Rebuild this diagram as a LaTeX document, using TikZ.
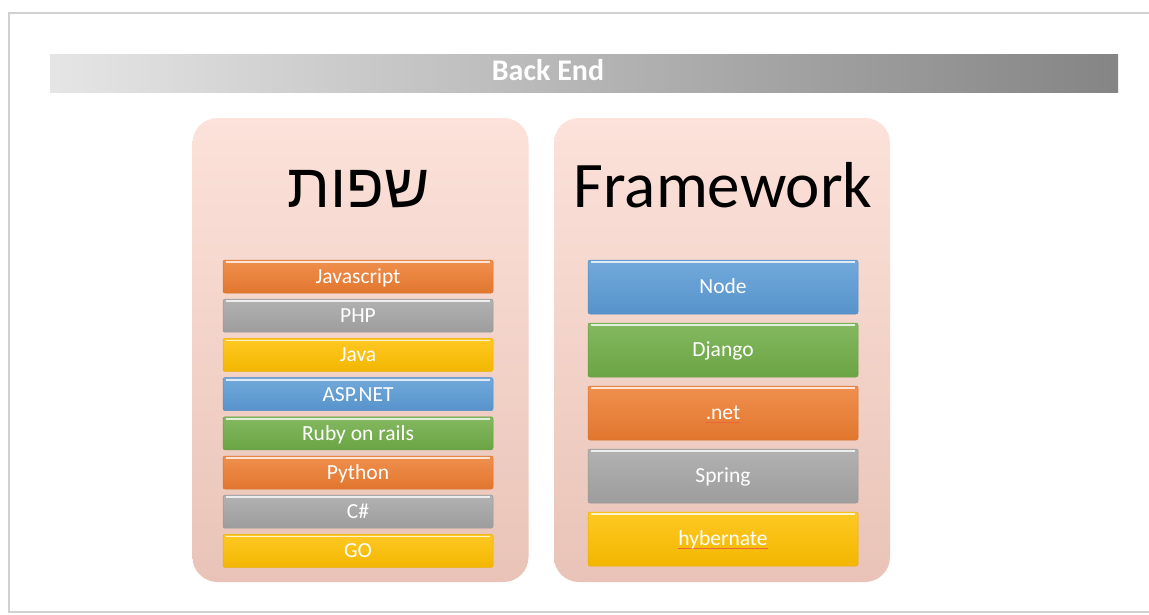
\documentclass[tikz,border=0pt]{standalone}
\usepackage{fontspec}
\setmainfont{Carlito}
\newfontfamily\hebfont[Script=Hebrew]{Liberation Sans}
\TeXXeTstate=1
\usetikzlibrary{positioning}

\definecolor{barorange}{HTML}{ED7D31}
\definecolor{bargray}{HTML}{A5A5A5}
\definecolor{baryellow}{HTML}{FFC000}
\definecolor{barblue}{HTML}{5B9BD5}
\definecolor{bargreen}{HTML}{70AD47}
\definecolor{paneltop}{HTML}{FCE2DA}
\definecolor{panelbot}{HTML}{E9C3B7}
\definecolor{spellred}{HTML}{E8663A}
\newcommand{\spellmark}[1]{\setbox0\hbox{#1}\rlap{\color{spellred}\rule[-3.5pt]{\wd0}{1.3pt}}\box0}

\tikzset{
  panel/.style={rounded corners=25pt, top color=paneltop, bottom color=panelbot,
    minimum width=336pt, minimum height=464pt, inner sep=0pt},
  langbar/.style={rounded corners=2pt, minimum width=270pt, minimum height=33pt,
    top color=#1!86!white, bottom color=#1!95!black, draw=#1!92!black, line width=0.5pt,
    text=white, font=\fontsize{21.5}{24}\selectfont, inner sep=0pt,
    text height=13.8pt, text depth=0pt,
    path picture={\draw[#1!20!white, line width=1.8pt]
      ([xshift=3pt,yshift=-2pt]path picture bounding box.north west) --
      ([xshift=-3pt,yshift=-2pt]path picture bounding box.north east);}},
  fwbar/.style={langbar=#1, minimum height=54pt},
  title/.style={anchor=base, inner sep=0pt},
}

\begin{document}
\begin{tikzpicture}[x=1pt, y=-1pt]
  \useasboundingbox (0,0) rectangle (1149,614);
  \fill[white] (0,0) rectangle (1149,614);
  \draw[black!18, line width=1.5pt, fill=white] (9,13) rectangle (1170,612);

  % header
  \node[left color=black!10, right color=black!48, minimum width=1068pt, minimum height=38pt,
    inner sep=0pt] (header) at (584,73) {};
  \node[title, text=white, font=\bfseries\fontsize{30}{32}\selectfont] (backend) at (548,80) {Back End};

  % panels
  \node[panel] (langs) at (360.5,350) {};
  \node[panel] (frames) at (722,350) {};
  \node[title, font=\hebfont\fontsize{62}{66}\selectfont] (langtitle) at (359,207) {\beginR שפות\endR};
  \node[title, font=\fontsize{65}{70}\selectfont] (fwtitle) at (723,207) {Framework};

  % languages
  \node[langbar=barorange] (js)     at (358,276.5) {Javascript};
  \node[langbar=bargray]   (php)    at (358,315.7) {PHP};
  \node[langbar=baryellow] (java)   at (358,354.9) {Java};
  \node[langbar=barblue]   (asp)    at (358,394.1) {ASP.NET};
  \node[langbar=bargreen]  (ruby)   at (358,433.3) {Ruby on rails};
  \node[langbar=barorange] (python) at (358,472.5) {Python};
  \node[langbar=bargray]   (csharp) at (358,511.7) {C\#};
  \node[langbar=baryellow] (golang) at (358,550.9) {GO};

  % frameworks
  \node[fwbar=barblue]   (node)   at (723,287) {Node};
  \node[fwbar=bargreen]  (django) at (723,350) {Django};
  \node[fwbar=barorange] (dotnet) at (723,413) {\spellmark{.net}};
  \node[fwbar=bargray]   (spring) at (723,476) {Spring};
  \node[fwbar=baryellow] (hyber)  at (723,539) {\spellmark{hybernate}};
\end{tikzpicture}
\end{document}
